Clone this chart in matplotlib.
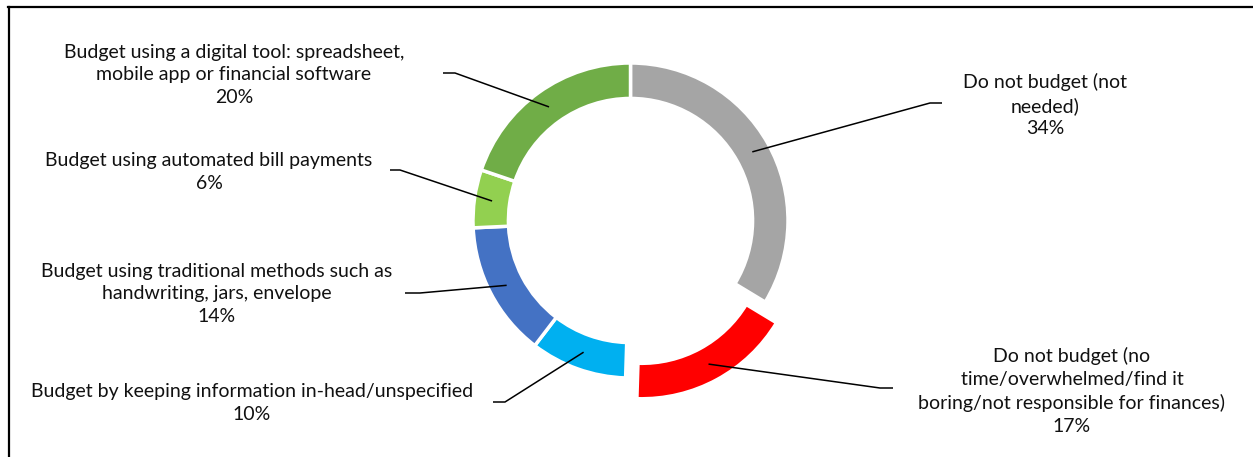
import numpy as np
import matplotlib.pyplot as plt
from matplotlib.lines import Line2D

# ── Data ──────────────────────────────────────────────────────────────────────

categories = [
    'Do not budget (not\nneeded)',
    'Do not budget (no\ntime/overwhelmed/find it\nboring/not responsible for finances)',
    'Budget by keeping information in-head/unspecified',
    'Budget using traditional methods such as\nhandwriting, jars, envelope',
    'Budget using automated bill payments',
    'Budget using a digital tool: spreadsheet,\nmobile app or financial software',
]
shares = [34, 17, 10, 14, 6, 20]
colors = ['#A5A5A5', '#FF0000', '#00B0F0', '#4472C4', '#92D050', '#70AD47']
explode = [0, 0.15, 0, 0, 0, 0]

# label block centre and leader elbow / stub end, in figure pixels (y down)
label_pos = [(1045, 105), (1072, 391), (252, 403), (217, 294), (209, 172), (234, 75)]
elbow_pos = [(930, 103), (880, 388), (505, 402), (420, 293), (400, 170), (455, 73)]
stub_pos = [(942, 103), (893, 388), (493, 402), (405, 293), (390, 170), (443, 73)]

W, H = 1253, 457
CX, CY, R = 630.5, 220.5, 157.5
RING = 0.225

plt.rcParams['font.family'] = ['Lato', 'DejaVu Sans']

fig = plt.figure(figsize=(W / 100, H / 100), dpi=100)
ax = fig.add_axes([0, 0, 1, 1])


def px(x, y):
    return (x - CX) / R, (CY - y) / R


wedges, _ = ax.pie(shares, colors=colors, explode=explode, startangle=90,
                   counterclock=False, radius=1.0,
                   wedgeprops=dict(width=RING, edgecolor='white', linewidth=2.5))

# pie() resets the limits, so map the axes onto the figure pixels afterwards
ax.set_xlim(-CX / R, (W - CX) / R)
ax.set_ylim((CY - H) / R, CY / R)
ax.set_aspect('equal')
ax.axis('off')

for w, ex, lab, pct, lp, ep, sp in zip(wedges, explode, categories, shares,
                                       label_pos, elbow_pos, stub_pos):
    mid = np.deg2rad((w.theta1 + w.theta2) / 2)
    r = 1 - RING / 2 + ex
    ax_, ay_ = r * np.cos(mid), r * np.sin(mid)
    ex_, ey_ = px(*ep)
    sx_, sy_ = px(*sp)
    ax.plot([ax_, ex_, sx_], [ay_, ey_, sy_], color='black', lw=1.1,
            solid_capstyle='butt', zorder=5)
    tx, ty = px(*lp)
    ax.text(tx, ty, f'{lab}\n{pct}%', ha='center', va='center',
            fontsize=14, linespacing=1.4, color='#111111')

# border of the figure box
fig.add_artist(Line2D([8 / W, 1], [1 - 6.5 / H, 1 - 6.5 / H],
                      transform=fig.transFigure, color='black', lw=1.6))
fig.add_artist(Line2D([9 / W, 9 / W], [0, 1 - 6.5 / H],
                      transform=fig.transFigure, color='black', lw=1.6))

fig.savefig('out.png', dpi=100, facecolor='white')
